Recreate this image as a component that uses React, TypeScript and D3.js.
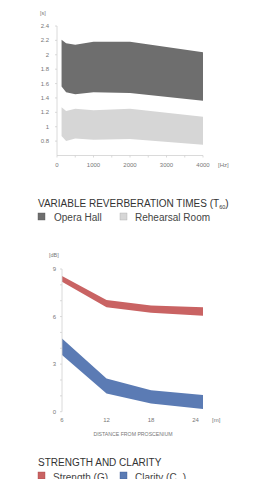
import { scaleLinear, area, range } from 'd3';

// reverberation times, [s]
const freqs = [125, 250, 500, 1000, 2000, 4000];
const operaHigh = [2.21, 2.16, 2.14, 2.18, 2.18, 2.035];
const operaLow = [1.56, 1.48, 1.45, 1.48, 1.47, 1.36];
const rehearsalHigh = [1.27, 1.22, 1.25, 1.23, 1.25, 1.14];
const rehearsalLow = [0.87, 0.8, 0.835, 0.82, 0.83, 0.75];
const rtTicks = [0.8, 1, 1.2, 1.4, 1.6, 1.8, 2, 2.2, 2.4];
const hzTicks = [0, 1000, 2000, 3000, 4000];

// strength and clarity, [dB]
const distances = [6, 12, 18, 25];
const strengthHigh = [8.56, 7.04, 6.7, 6.58];
const strengthLow = [8.2, 6.58, 6.24, 6.05];
const clarityHigh = [4.62, 2.1, 1.36, 1.05];
const clarityLow = [3.57, 1.15, 0.52, 0.17];
const dbTicks = [0, 3, 6, 9];
const mTicks = [6, 12, 18, 24];

const font = '"Liberation Sans", Arial, sans-serif';
const axisColor = '#d0d0d0';
const tickColor = '#777';

const App = () => {
  // top chart
  const x1 = scaleLinear().domain([0, 4000]).range([57, 203]);
  const y1 = scaleLinear().domain([0.6, 2.4]).range([155.5, 26]);
  const band1 = (hi: number[], lo: number[]) =>
    area<number>()
      .x((f) => x1(f))
      .y0((_, i) => y1(lo[i]))
      .y1((_, i) => y1(hi[i]))(freqs) ?? '';

  // bottom chart
  const x2 = scaleLinear().domain([6, 25]).range([62, 203]);
  const y2 = scaleLinear().domain([0, 9]).range([411.7, 269]);
  const band2 = (hi: number[], lo: number[]) =>
    area<number>()
      .x((d) => x2(d))
      .y0((_, i) => y2(lo[i]))
      .y1((_, i) => y2(hi[i]))(distances) ?? '';

  return (
    <svg
      width={268}
      height={479}
      style={{ position: 'absolute', left: 0, top: 0, background: '#fff' }}
      fontFamily={font}
    >
      {/* reverberation chart */}
      <path d={band1(operaHigh, operaLow)} fill="#6e6e6e" />
      <path d={band1(rehearsalHigh, rehearsalLow)} fill="#d6d6d6" />
      <line x1={x1(0)} x2={x1(0)} y1={y1(2.4)} y2={y1(0.6)} stroke={axisColor} strokeWidth={0.8} />
      <line x1={x1(0)} x2={x1(4000)} y1={y1(0.6)} y2={y1(0.6)} stroke={axisColor} strokeWidth={0.8} />
      {rtTicks.map((t) => (
        <g key={t}>
          <line x1={x1(0) - 2} x2={x1(0)} y1={y1(t)} y2={y1(t)} stroke={axisColor} strokeWidth={0.8} />
          <text x={49} y={y1(t) + 2} fontSize={6} fill={tickColor} textAnchor="end">
            {String(+t.toFixed(1))}
          </text>
        </g>
      ))}
      {range(0, 4001, 500).map((t) => (
        <line key={t} x1={x1(t)} x2={x1(t)} y1={y1(0.6)} y2={y1(0.6) + 2} stroke={axisColor} strokeWidth={0.8} />
      ))}
      {hzTicks.map((t) => (
        <text key={t} x={x1(t)} y={167} fontSize={6} fill={tickColor} textAnchor="middle">
          {t}
        </text>
      ))}
      <text x={218} y={167} fontSize={6} fill={tickColor}>[Hz]</text>
      <text x={40} y={15} fontSize={5.5} fill={tickColor}>[s]</text>

      <text x={38} y={207} fontSize={10} fill="#333">
        VARIABLE REVERBERATION TIMES (T
        <tspan fontSize={5.5} dy={2}>60</tspan>
        <tspan dy={-2}>)</tspan>
      </text>
      <rect x={38} y={213} width={7} height={7} fill="#6e6e6e" stroke="#555" strokeWidth={0.4} />
      <text x={54} y={221} fontSize={10} fill="#444">Opera Hall</text>
      <rect x={120} y={213} width={7} height={7} fill="#d6d6d6" stroke="#aaa" strokeWidth={0.4} />
      <text x={135} y={221} fontSize={10} fill="#444">Rehearsal Room</text>

      {/* strength / clarity chart */}
      <path d={band2(strengthHigh, strengthLow)} fill="#c96363" />
      <path d={band2(clarityHigh, clarityLow)} fill="#5b7bb4" />
      <line x1={x2(6)} x2={x2(6)} y1={y2(9)} y2={y2(0)} stroke={axisColor} strokeWidth={0.8} />
      {range(0, 10).map((t) => (
        <line key={t} x1={x2(6) - 2} x2={x2(6)} y1={y2(t)} y2={y2(t)} stroke={axisColor} strokeWidth={0.8} />
      ))}
      {dbTicks.map((t) => (
        <text key={t} x={56} y={y2(t) + 2} fontSize={6} fill={tickColor} textAnchor="end">
          {t}
        </text>
      ))}
      {mTicks.map((t) => (
        <text key={t} x={x2(t)} y={422} fontSize={6} fill={tickColor} textAnchor="middle">
          {t}
        </text>
      ))}
      <text x={212} y={422} fontSize={6} fill={tickColor}>[m]</text>
      <text x={49} y={257} fontSize={5.5} fill={tickColor}>[dB]</text>
      <text x={133} y={436} fontSize={5.2} fill={tickColor} textAnchor="middle">
        DISTANCE FROM PROSCENIUM
      </text>

      <text x={38} y={466} fontSize={10} fill="#333">STRENGTH AND CLARITY</text>
      <rect x={38} y={472} width={7} height={7} fill="#c96363" stroke="#a44" strokeWidth={0.4} />
      <text x={53} y={481} fontSize={10} fill="#444">Strength (G)</text>
      <rect x={120} y={472} width={7} height={7} fill="#5b7bb4" stroke="#3a5a94" strokeWidth={0.4} />
      <text x={135} y={481} fontSize={10} fill="#444">
        Clarity (C
        <tspan fontSize={5.5} dy={2}>80</tspan>
        <tspan dy={-2}>)</tspan>
      </text>
    </svg>
  );
};

export default App;
